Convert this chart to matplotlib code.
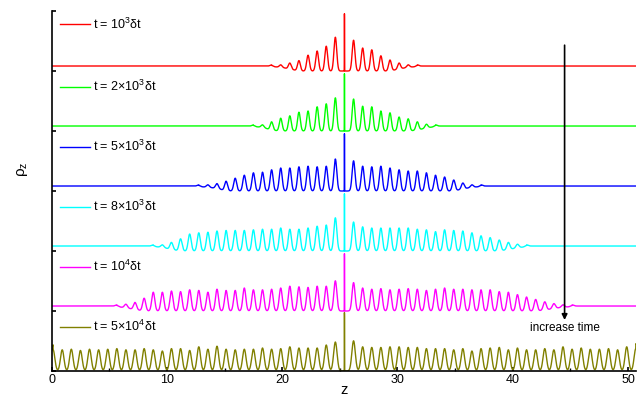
import numpy as np
import matplotlib
matplotlib.use("Agg")
import matplotlib.pyplot as plt
from matplotlib.ticker import MultipleLocator

plt.rcParams["font.family"] = ["Liberation Sans", "DejaVu Sans"]
plt.rcParams["mathtext.fontset"] = "custom"
plt.rcParams["mathtext.rm"] = "Liberation Sans"
plt.rcParams["mathtext.default"] = "regular"

# lattice of peak sites along z (centre site carries the spike)
z_center = 25.4
z_spacing = 0.79
flat_level = 0.083  # uniform density level above each offset

labels = [r"t = 10$^3$δt", r"t = 2×10$^3$δt", r"t = 5×10$^3$δt",
          r"t = 8×10$^3$δt", r"t = 10$^4$δt", r"t = 5×10$^4$δt"]
colors = ["#ff0000", "#00ff00", "#0000ff", "#00ffff", "#ff00ff", "#808000"]
offsets = [5, 4, 3, 2, 1, 0]
spike_tops = [1.0, 1.0, 1.0, 1.0, 1.0, 1.02]

# peak amplitudes above the flat level, site index k starting at *_k0 (centre k=0 skipped)
red_k0 = -8
red_amp = [0.01, 0.02, 0.05, 0.09, 0.18, 0.25, 0.33, 0.48,
           0.43, 0.30, 0.27, 0.17, 0.10, 0.05, 0.02, 0.01]
green_k0 = -10
green_amp = [0.01, 0.02, 0.07, 0.13, 0.17, 0.23, 0.25, 0.32, 0.37, 0.47,
             0.45, 0.33, 0.32, 0.25, 0.22, 0.15, 0.12, 0.07, 0.03, 0.01]
blue_k0 = -16
blue_amp = [0.01, 0.02, 0.04, 0.08, 0.13, 0.18, 0.22, 0.23, 0.27, 0.30, 0.30, 0.32,
            0.33, 0.32, 0.33, 0.45,
            0.42, 0.33, 0.32, 0.33, 0.30, 0.27, 0.25, 0.25, 0.22, 0.18, 0.15, 0.10,
            0.05, 0.02, 0.01]
cyan_k0 = -21
cyan_amp = [0.01, 0.02, 0.06, 0.12, 0.20, 0.22, 0.23, 0.25, 0.26, 0.26, 0.26,
            0.27, 0.28, 0.28, 0.30, 0.28, 0.28, 0.30, 0.33, 0.35, 0.47,
            0.40, 0.32, 0.30, 0.30, 0.30, 0.30, 0.30, 0.28, 0.27, 0.24, 0.27,
            0.26, 0.25, 0.22, 0.17, 0.14, 0.10, 0.06, 0.03, 0.01]
magenta_k0 = -25
magenta_amp = [0.01, 0.03, 0.06, 0.13, 0.23, 0.23, 0.25, 0.24, 0.27, 0.26, 0.23,
               0.28, 0.26, 0.26, 0.30, 0.27, 0.27, 0.28, 0.30, 0.33, 0.32, 0.31,
               0.33, 0.33, 0.42,
               0.39, 0.30, 0.28, 0.29, 0.27, 0.28, 0.29, 0.28, 0.26, 0.28, 0.30,
               0.28, 0.28, 0.27, 0.27, 0.27, 0.24, 0.23, 0.19, 0.15, 0.11, 0.07,
               0.04, 0.02, 0.01]
olive_k0 = -32
olive_amp = [0.27, 0.27, 0.28, 0.26, 0.28, 0.27, 0.28, 0.29, 0.27, 0.27, 0.29,
             0.27, 0.25, 0.29, 0.29, 0.26, 0.32, 0.28, 0.33, 0.28, 0.27, 0.28,
             0.28, 0.30, 0.28, 0.29, 0.32, 0.30, 0.30, 0.30, 0.35, 0.40,
             0.42, 0.32, 0.31, 0.31, 0.32, 0.32, 0.31, 0.31, 0.29, 0.29, 0.29,
             0.27, 0.29, 0.25, 0.29, 0.30, 0.31, 0.27, 0.30, 0.27, 0.27, 0.29,
             0.27, 0.32, 0.28, 0.30, 0.28, 0.28, 0.29, 0.27, 0.32, 0.29]

series = [(red_k0, red_amp), (green_k0, green_amp), (blue_k0, blue_amp),
          (cyan_k0, cyan_amp), (magenta_k0, magenta_amp), (olive_k0, olive_amp)]
widths = [0.12, 0.12, 0.125, 0.13, 0.13, 0.15]

z = np.linspace(0, 50.7, 8000)

fig = plt.figure(figsize=(6.37, 4.0), dpi=100)
ax = fig.add_axes([0.0812, 0.0725, 0.9173, 0.9])

for i, ((k0, amp), col, off, top, lab, sig) in enumerate(
        zip(series, colors, offsets, spike_tops, labels, widths)):
    ks = np.concatenate([np.arange(k0, 0), np.arange(1, len(amp) + k0 + 1)])
    amp = np.array(amp)
    sites = z_center + z_spacing * ks
    dips = np.minimum(amp, flat_level)
    # dip profile between sites (centre included)
    dip_sites = np.concatenate([sites, [z_center]])
    dip_vals = np.concatenate([dips, [flat_level]])
    order = np.argsort(dip_sites)
    dip = np.interp(z, dip_sites[order], dip_vals[order], left=0, right=0)
    y = off + flat_level - dip
    for s, a, d in zip(sites, amp, dips):
        y += (a + d) * np.exp(-0.5 * ((z - s) / sig) ** 2)
    y += top * np.exp(-0.5 * ((z - z_center) / 0.008) ** 2)
    ax.plot(z, y, color=col, lw=1.0)
    # legend entry
    ly = off + (0.78 if i == 0 else 0.74)
    ax.plot([0.7, 3.3], [ly, ly], color=col, lw=1.0)
    ax.text(3.6, ly, lab, fontsize=9, va="center", ha="left")

ax.annotate("", xy=(44.5, 0.85), xytext=(44.5, 5.43),
            arrowprops=dict(arrowstyle="-|>", color="black", lw=1.2,
                            mutation_scale=8, shrinkA=0, shrinkB=0))
ax.text(44.5, 0.72, "increase time", fontsize=8.5, ha="center", va="center")

ax.set_xlim(0, 50.7)
ax.set_ylim(0, 6)
ax.spines["top"].set_visible(False)
ax.spines["right"].set_visible(False)
ax.spines["left"].set_linewidth(1.2)
ax.spines["bottom"].set_linewidth(1.2)
ax.xaxis.set_major_locator(MultipleLocator(10))
ax.xaxis.set_minor_locator(MultipleLocator(5))
ax.yaxis.set_major_locator(MultipleLocator(1))
ax.tick_params(axis="both", which="major", direction="in", length=3, width=1.2,
               labelsize=9, pad=2)
ax.tick_params(axis="x", which="minor", direction="in", length=2, width=1.0)
ax.tick_params(axis="y", labelleft=False)
ax.set_xlabel("z", fontsize=10.5, labelpad=-2)
ax.set_ylabel("ρ$_z$", fontsize=11)
ax.yaxis.set_label_coords(-0.037, 0.56)

fig.savefig("out.png", dpi=100)
